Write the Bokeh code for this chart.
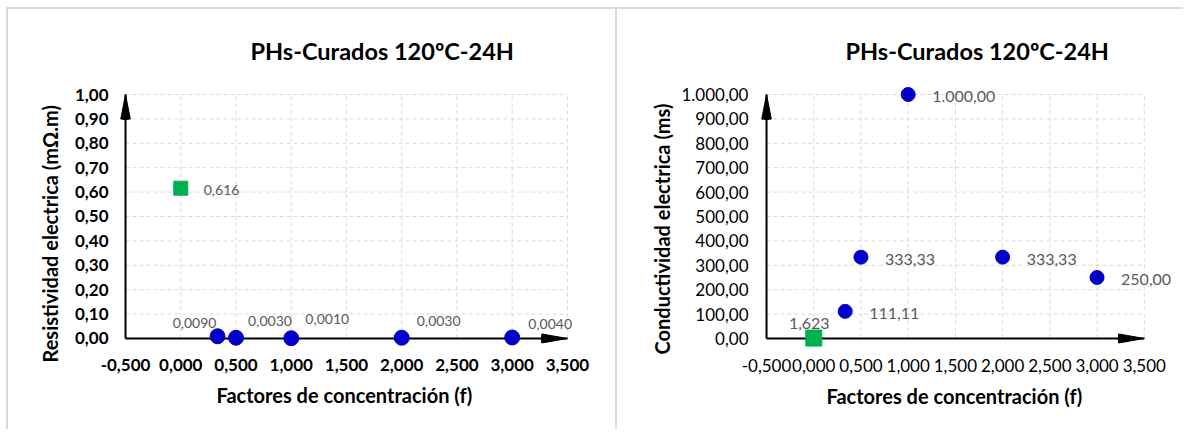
from bokeh.plotting import figure
from bokeh.models import FixedTicker, Range1d, ColumnDataSource, LabelSet, Title
from bokeh.core.properties import value
from bokeh.layouts import row
from bokeh.embed import file_html
from bokeh.resources import INLINE

# ---------------- data ----------------
chart_title = "PHs-Curados 120ºC-24H"
x_title = "Factores de concentración (f)"
y_title_left = "Resistividad electrica (mΩ.m)"
y_title_right = "Conductividad electrica (ms)"

factor = [0.333, 0.5, 1.0, 2.0, 3.0]
resistivity = [0.009, 0.003, 0.001, 0.003, 0.004]
resistivity_text = ["0,0090", "0,0030", "0,0010", "0,0030", "0,0040"]
conductivity = [111.11, 333.33, 1000.0, 333.33, 250.0]
conductivity_text = ["111,11", "333,33", "1.000,00", "333,33", "250,00"]

ref_factor = [0.0]
ref_resistivity = [0.616]
ref_resistivity_text = ["0,616"]
ref_conductivity = [1.623]
ref_conductivity_text = ["1,623"]

x_ticks = [-0.5, 0.0, 0.5, 1.0, 1.5, 2.0, 2.5, 3.0, 3.5]
x_tick_text = ["-0,500", "0,000", "0,500", "1,000", "1,500", "2,000", "2,500", "3,000", "3,500"]
y_ticks_left = [0.0, 0.1, 0.2, 0.3, 0.4, 0.5, 0.6, 0.7, 0.8, 0.9, 1.0]
y_tick_text_left = ["0,00", "0,10", "0,20", "0,30", "0,40", "0,50", "0,60", "0,70", "0,80", "0,90", "1,00"]
y_ticks_right = [0, 100, 200, 300, 400, 500, 600, 700, 800, 900, 1000]
y_tick_text_right = ["0,00", "100,00", "200,00", "300,00", "400,00", "500,00",
                     "600,00", "700,00", "800,00", "900,00", "1.000,00"]

# label offsets (screen px) -- styling only
left_lbl_dx = [-23, 34, 36, 37, 38]
left_lbl_dy = [13, 17, 19, 17, 13]

FONT = "Lato"
BLUE = "#0000C8"
GREEN = "#00B050"
GRID = "#d9d9d9"
LABEL_GRAY = "#595959"


def make_fig(cfg, yt, ytt, ytitle, bold_ticks):
    p = figure(output_backend="svg", toolbar_location=None,
               frame_width=cfg["fw"], frame_height=cfg["fh"],
               min_border_left=cfg["bl"], min_border_right=cfg["br"],
               min_border_top=cfg["bt"], min_border_bottom=cfg["bb"],
               x_range=Range1d(cfg["x0"], cfg["x1"]), y_range=Range1d(cfg["y0"], cfg["y1"]),
               background_fill_color="white", border_fill_color="white",
               outline_line_color=None)
    p.margin = cfg["margin"]
    p.xgrid.visible = False
    p.ygrid.visible = False

    p.title.text = chart_title
    p.title.align = "left"
    p.title.offset = cfg["title_off"]
    p.title.standoff = cfg["title_so"]
    p.title.text_font = FONT
    p.title.text_font_size = "23.5px"
    p.title.text_font_style = "bold"
    p.title.text_color = "#000000"

    for ax in (p.xaxis[0], p.yaxis[0]):
        ax.axis_line_color = None
        ax.major_tick_line_color = None
        ax.minor_tick_line_color = None
        ax.major_tick_out = 0
        ax.major_tick_in = 0
        ax.minor_tick_out = 0
        ax.major_label_text_font = FONT
        ax.major_label_text_font_size = "17px"
        ax.major_label_text_color = "#000000"
        ax.major_label_text_font_style = "bold" if bold_ticks else "normal"

    p.xaxis.ticker = FixedTicker(ticks=x_ticks)
    p.xaxis.major_label_overrides = dict(zip(x_ticks, x_tick_text))
    p.xaxis.major_label_standoff = 11
    p.yaxis.ticker = FixedTicker(ticks=yt)
    p.yaxis.major_label_overrides = dict(zip(yt, ytt))
    p.yaxis.major_label_standoff = cfg["ylab_so"]

    p.add_layout(Title(text=x_title, align="left", offset=cfg["xt_off"], standoff=15,
                       text_font=FONT, text_font_size="20px", text_font_style="bold",
                       text_color="#000000"), "below")
    p.add_layout(Title(text=ytitle, align="left", offset=cfg["yt_off"], standoff=cfg["yt_so"],
                       text_font=FONT, text_font_size="20px", text_font_style="bold",
                       text_color="#000000"), "left")

    # dashed grid from the tick lists
    p.segment(x0=x_ticks, y0=[yt[0]] * len(x_ticks), x1=x_ticks, y1=[yt[-1]] * len(x_ticks),
              line_color=GRID, line_dash="4 3", line_width=1)
    p.segment(x0=[x_ticks[0]] * len(yt), y0=yt, x1=[x_ticks[-1]] * len(yt), y1=yt,
              line_color=GRID, line_dash="4 3", line_width=1)

    # axis lines with arrow heads
    p.segment(x0=[x_ticks[0], x_ticks[0]], y0=[yt[0], yt[0]],
              x1=[x_ticks[-1], x_ticks[0]], y1=[yt[0], yt[-1]],
              line_color="black", line_width=2)
    p.wedge(x=[x_ticks[-1]], y=[yt[0]], radius=26, radius_units="screen",
            start_angle=170, end_angle=190, start_angle_units="deg", end_angle_units="deg",
            fill_color="black", line_color="black")
    p.wedge(x=[x_ticks[0]], y=[yt[-1]], radius=25, radius_units="screen",
            start_angle=259, end_angle=281, start_angle_units="deg", end_angle_units="deg",
            fill_color="black", line_color="black")

    p.styles = {"border-left": "2px solid #d9d9d9", "border-top": "2px solid #d9d9d9"}
    return p


# ---------------- left chart ----------------
cfg1 = dict(fw=455, fh=261, bl=110, br=42, bt=75, bb=84,
            x0=-0.5636, x1=3.573, y0=-0.037, y1=1.041, margin=(7, 0, 0, 6),
            title_off=132, title_so=40, ylab_so=10, xt_off=98, yt_off=-15, yt_so=20)
p1 = make_fig(cfg1, y_ticks_left, y_tick_text_left, y_title_left, True)
src1 = ColumnDataSource(dict(x=factor, y=resistivity, t=resistivity_text,
                             dx=left_lbl_dx, dy=left_lbl_dy))
p1.scatter("x", "y", source=src1, size=15, marker="circle", fill_color=BLUE, line_color=BLUE)
p1.add_layout(LabelSet(x="x", y="y", text="t", source=src1, x_offset="dx", y_offset="dy",
                       text_align="center", text_baseline="middle", text_font_size="14px",
                       text_color=LABEL_GRAY, text_font=value(FONT)))
src1r = ColumnDataSource(dict(x=ref_factor, y=ref_resistivity, t=ref_resistivity_text))
p1.scatter("x", "y", source=src1r, size=14, marker="square", fill_color=GREEN, line_color=GREEN)
p1.add_layout(LabelSet(x="x", y="y", text="t", source=src1r, x_offset=23, y_offset=-1.5,
                       text_align="left", text_baseline="middle", text_font_size="14px",
                       text_color=LABEL_GRAY, text_font=value(FONT)))

# ---------------- right chart ----------------
cfg2 = dict(fw=413, fh=261, bl=142, br=11, bt=75, bb=84,
            x0=-0.5745, x1=3.82, y0=-37, y1=1041, margin=(7, 0, 0, 0),
            title_off=86, title_so=40, ylab_so=11, xt_off=67, yt_off=-7, yt_so=10)
p2 = make_fig(cfg2, y_ticks_right, y_tick_text_right, y_title_right, False)
src2 = ColumnDataSource(dict(x=factor, y=conductivity, t=conductivity_text))
p2.scatter("x", "y", source=src2, size=14, marker="circle", fill_color=BLUE, line_color=BLUE)
p2.add_layout(LabelSet(x="x", y="y", text="t", source=src2, x_offset=24, y_offset=-2,
                       text_align="left", text_baseline="middle", text_font_size="16px",
                       text_color=LABEL_GRAY, text_font=value(FONT)))
src2r = ColumnDataSource(dict(x=ref_factor, y=ref_conductivity, t=ref_conductivity_text))
p2.scatter("x", "y", source=src2r, size=16, marker="square", fill_color=GREEN, line_color=GREEN)
p2.add_layout(LabelSet(x="x", y="y", text="t", source=src2r, x_offset=-4.5, y_offset=15,
                       text_align="center", text_baseline="middle", text_font_size="16px",
                       text_color=LABEL_GRAY, text_font=value(FONT)))

layout = row(p1, p2)
open("out.html", "w").write(file_html(layout, INLINE))
